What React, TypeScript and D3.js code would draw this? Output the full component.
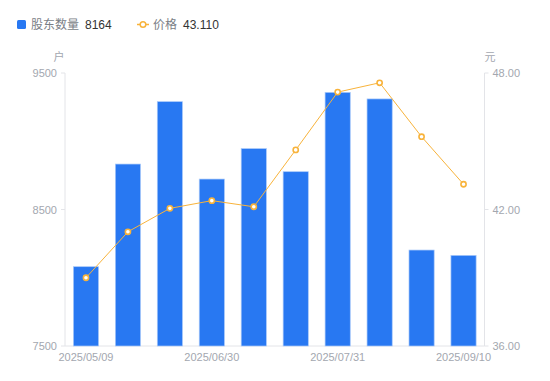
import React from "react";
import * as d3 from "d3";

const dates = ["2025/05/09", "2025/05/20", "2025/06/10", "2025/06/30", "2025/07/10", "2025/07/20", "2025/07/31", "2025/08/10", "2025/08/20", "2025/09/10"];
const holders = [8081, 8833, 9290, 8723, 8946, 8777, 9358, 9310, 8203, 8164];
const prices = [39.0, 41.02, 42.05, 42.39, 42.12, 44.62, 47.16, 47.57, 45.2, 43.11];
const leftTicks = [7500, 8500, 9500];
const rightTicks = [36, 42, 48];
const labelIdx = [0, 3, 6, 9];

const W = 550, H = 381;
const L = 65, R = 484.5, T = 73, B = 346;
const BLUE = "#2878f2";
const ORANGE = "#f8b33b";
const GRAY = "#a3a7af";
const AXIS = "#e3e4e8";
const FONT = "'Liberation Sans', Arial, 'Noto Sans CJK SC', sans-serif";

export default function App() {
  const x = d3.scaleBand<string>().domain(dates).range([L, R]).paddingInner(0.4).paddingOuter(0.2);
  const xc = d3.scaleBand<string>().domain(dates).range([L, R]);
  const yL = d3.scaleLinear().domain([7500, 9500]).range([B, T]);
  const yR = d3.scaleLinear().domain([36, 48]).range([B, T]);
  const line = d3.line<number>().x((_, i) => xc(dates[i])! + xc.bandwidth() / 2).y((d) => yR(d));

  return (
    <svg width={W} height={H} style={{ position: "absolute", left: 0, top: 0, fontFamily: FONT }}>
      {/* legend */}
      <rect x={17} y={20} width={9} height={9} rx={1.5} fill={BLUE} />
      <text x={31} y={28.5} fontSize={12} fill="#7a7e86">股东数量</text>
      <text x={85} y={28.5} fontSize={12} fill="#333">{holders[holders.length - 1]}</text>
      <line x1={137} x2={149} y1={24.5} y2={24.5} stroke={ORANGE} strokeWidth={1.5} />
      <circle cx={143} cy={24.5} r={2.8} fill="#fff" stroke={ORANGE} strokeWidth={1.5} />
      <text x={153} y={28.5} fontSize={12} fill="#7a7e86">价格</text>
      <text x={183} y={28.5} fontSize={12} fill="#333">{prices[prices.length - 1].toFixed(3)}</text>

      {/* unit labels */}
      <text x={59} y={61} fontSize={11} fill={GRAY} textAnchor="middle">户</text>
      <text x={490} y={61} fontSize={11} fill={GRAY} textAnchor="middle">元</text>

      {/* axes */}
      <line x1={L} x2={L} y1={T} y2={B} stroke={AXIS} />
      <line x1={R} x2={R} y1={T} y2={B} stroke={AXIS} />
      <line x1={L} x2={R} y1={B} y2={B} stroke={AXIS} />
      {leftTicks.map((t) => (
        <g key={"l" + t}>
          <line x1={L - 4} x2={L} y1={yL(t)} y2={yL(t)} stroke={AXIS} />
          <text x={L - 8} y={yL(t) + 4} fontSize={11} fill={GRAY} textAnchor="end">{t}</text>
        </g>
      ))}
      {rightTicks.map((t) => (
        <g key={"r" + t}>
          <line x1={R} x2={R + 4} y1={yR(t)} y2={yR(t)} stroke={AXIS} />
          <text x={R + 8} y={yR(t) + 4} fontSize={11} fill={GRAY}>{t.toFixed(2)}</text>
        </g>
      ))}
      {labelIdx.map((i) => (
        <text key={"x" + i} x={xc(dates[i])! + xc.bandwidth() / 2} y={361} fontSize={11} fill={GRAY} textAnchor="middle">{dates[i]}</text>
      ))}

      {/* bars */}
      {holders.map((v, i) => (
        <rect key={"b" + i} x={x(dates[i])!} y={yL(v)} width={x.bandwidth()} height={B - yL(v)} fill={BLUE} stroke="#a9c9f9" strokeWidth={0.7} />
      ))}

      {/* line */}
      <path d={line(prices)!} fill="none" stroke={ORANGE} strokeWidth={1} />
      {prices.map((p, i) => (
        <circle key={"c" + i} cx={xc(dates[i])! + xc.bandwidth() / 2} cy={yR(p)} r={2.6} fill="#fff" stroke={ORANGE} strokeWidth={1.6} />
      ))}
    </svg>
  );
}
